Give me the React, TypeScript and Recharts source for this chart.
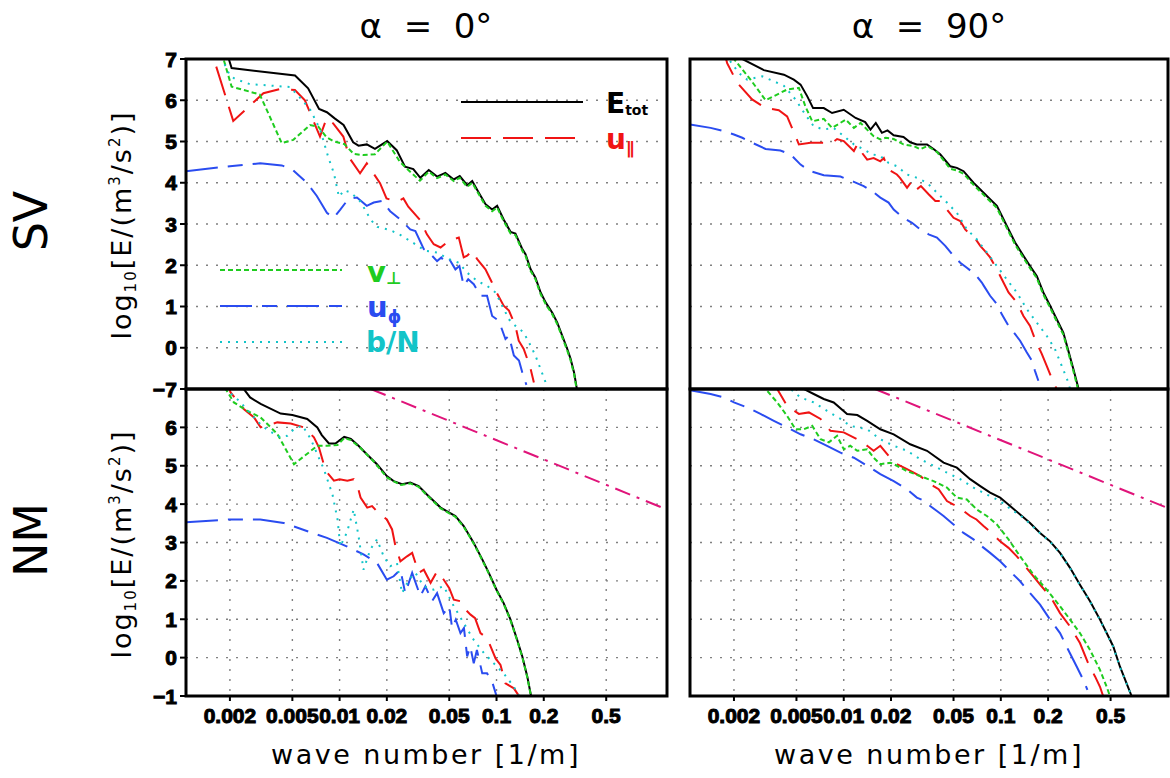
import React from 'react';
import { LineChart, Line, XAxis, YAxis, CartesianGrid } from 'recharts';

type Pt = [number, number];

// wave number ticks [1/m] and log10 energy ticks
const X_TICKS = [0.002, 0.005, 0.01, 0.02, 0.05, 0.1, 0.2, 0.5];
const Y_TICKS = [-1, 0, 1, 2, 3, 4, 5, 6, 7];
const K_MIN = 0.00105;

// ---- SV, alpha = 0 ----
const SV0_ETOT: Pt[] = [
  [0.0018, 7.6], [0.00195, 7.05], [0.00205, 6.78], [0.0052, 6.6], [0.0063, 6.29], [0.0074, 5.79],
  [0.0083, 5.71], [0.0093, 5.56], [0.0106, 5.4], [0.0122, 4.98], [0.0132, 4.9], [0.0149, 4.93],
  [0.0168, 4.82], [0.0201, 5.01], [0.0231, 4.79], [0.0261, 4.39], [0.0295, 4.33], [0.0327, 4.12],
  [0.037, 4.31], [0.0418, 4.15], [0.0472, 4.24], [0.0534, 4.08], [0.0583, 4.16], [0.065, 3.94],
  [0.07, 4.04], [0.0771, 3.76], [0.0851, 3.48], [0.0938, 3.35], [0.1009, 3.44], [0.111, 3.11],
  [0.1228, 2.81], [0.132, 2.77], [0.146, 2.39], [0.153, 2.27], [0.165, 1.9], [0.177, 1.7],
  [0.191, 1.34], [0.2055, 1.1], [0.2266, 0.85], [0.2438, 0.61], [0.2625, 0.29], [0.2825, -0.03],
  [0.2965, -0.27], [0.312, -0.6], [0.3245, -0.98], [0.335, -1.3],
];
const SV0_UPAR: Pt[] = [
  [0.0014, 7.8], [0.00158, 7.0], [0.0021, 5.5], [0.00327, 6.17], [0.00417, 6.27], [0.00519, 6.25],
  [0.00601, 6.0], [0.0075, 5.12], [0.00826, 5.56], [0.0091, 5.44], [0.01056, 5.12], [0.0116, 4.59],
  [0.0135, 4.23], [0.0149, 4.47], [0.0181, 3.99], [0.0199, 3.62], [0.0231, 3.54], [0.0255, 3.62],
  [0.0274, 3.42], [0.0325, 3.1], [0.036, 2.75], [0.0398, 2.51], [0.044, 2.43], [0.0497, 2.59],
  [0.0534, 2.63], [0.0575, 2.67], [0.0618, 2.19], [0.065, 2.23], [0.07, 2.35], [0.0753, 2.15],
  [0.085, 1.9], [0.093, 1.6], [0.1, 1.34], [0.111, 1.02], [0.12, 0.9], [0.132, 0.53], [0.1385, 0.17],
  [0.149, -0.03], [0.157, -0.27], [0.165, -0.52], [0.173, -0.84],
];
const SV0_UPHI: Pt[] = [
  [0.00105, 4.28], [0.002, 4.4], [0.00312, 4.47], [0.00428, 4.42], [0.005, 4.32], [0.00618, 4.0],
  [0.00716, 3.68], [0.0083, 3.27], [0.00916, 3.15], [0.0101, 3.35], [0.0114, 3.61], [0.0129, 3.64],
  [0.0149, 3.44], [0.0165, 3.52], [0.0186, 3.56], [0.021, 3.31], [0.0244, 3.11], [0.0282, 2.87],
  [0.0304, 2.83], [0.0344, 2.39], [0.038, 2.27], [0.0418, 2.1], [0.0445, 2.19], [0.0472, 2.06],
  [0.05, 2.15], [0.0547, 1.9], [0.058, 1.98], [0.0618, 1.5], [0.066, 1.66], [0.0716, 1.54],
  [0.079, 1.26], [0.087, 1.26], [0.0938, 0.77], [0.1035, 0.65], [0.114, 0.21], [0.12, 0.29],
  [0.129, -0.19], [0.139, -0.31], [0.146, -0.6], [0.155, -0.9],
];
const SV0_VPERP: Pt[] = [
  [0.0016, 7.5], [0.00182, 7.0], [0.00205, 6.33], [0.0031, 6.14], [0.00428, 4.96], [0.00507, 5.04],
  [0.00648, 5.4], [0.00732, 5.36], [0.00826, 5.1], [0.0092, 5.0], [0.0107, 4.94], [0.0123, 4.7],
  [0.01415, 4.67], [0.0168, 4.69], [0.0201, 5.0], [0.0242, 4.51], [0.0274, 4.31], [0.0325, 4.05],
  [0.037, 4.27], [0.0418, 4.11], [0.0472, 4.2], [0.0534, 4.04], [0.0583, 4.12], [0.065, 3.9],
  [0.07, 4.0], [0.0771, 3.72], [0.0851, 3.44], [0.0938, 3.31], [0.1009, 3.4], [0.111, 3.07],
  [0.1228, 2.77], [0.132, 2.73], [0.146, 2.35], [0.153, 2.23], [0.165, 1.86], [0.177, 1.66],
  [0.191, 1.3], [0.2055, 1.06], [0.2266, 0.81], [0.2438, 0.57], [0.2625, 0.25], [0.2825, -0.07],
  [0.2965, -0.31], [0.312, -0.64], [0.3245, -1.02], [0.335, -1.3],
];
const SV0_BN: Pt[] = [
  [0.0016, 7.4], [0.00178, 7.0], [0.002, 6.6], [0.00215, 6.52], [0.00268, 6.39], [0.0035, 6.36],
  [0.00484, 6.32], [0.0056, 6.06], [0.0065, 5.77], [0.0075, 5.3], [0.0085, 4.6], [0.0092, 4.23],
  [0.0099, 3.66], [0.0107, 3.82], [0.0118, 3.76], [0.0136, 3.54], [0.0158, 3.1], [0.0174, 2.93],
  [0.0211, 2.85], [0.0245, 2.73], [0.0298, 2.53], [0.0352, 2.35], [0.0418, 2.31], [0.0497, 2.15],
  [0.0575, 2.06], [0.065, 1.82], [0.0753, 1.62], [0.087, 1.5], [0.0986, 1.34], [0.106, 1.1],
  [0.12, 0.69], [0.132, 0.53], [0.149, 0.37], [0.165, 0.05], [0.177, -0.19], [0.191, -0.52],
  [0.2055, -0.84],
];

// ---- NM, alpha = 0 ----
const NM0_ETOT: Pt[] = [
  [0.0022, 7.4], [0.00245, 7.0], [0.00269, 6.78], [0.00314, 6.61], [0.00421, 6.36], [0.005, 6.32],
  [0.00622, 6.22], [0.00721, 6.0], [0.0077, 5.8], [0.00855, 5.58], [0.0094, 5.58], [0.0107, 5.75],
  [0.0118, 5.7], [0.0132, 5.52], [0.0149, 5.3], [0.0173, 5.04], [0.02, 4.73], [0.0221, 4.6],
  [0.025, 4.52], [0.0282, 4.56], [0.0319, 4.47], [0.036, 4.25], [0.0398, 4.08], [0.044, 3.91],
  [0.05, 3.78], [0.0547, 3.69], [0.0618, 3.43], [0.0716, 2.99], [0.0811, 2.56], [0.0893, 2.21],
  [0.1, 1.77], [0.111, 1.42], [0.1228, 0.99], [0.1355, 0.46], [0.146, 0.03], [0.157, -0.49],
  [0.166, -1.0], [0.172, -1.3],
];
const NM0_UPAR: Pt[] = [
  [0.0018, 7.5], [0.00202, 6.91], [0.00245, 6.48], [0.00285, 6.26], [0.00314, 6.0], [0.00401, 6.13],
  [0.00488, 6.1], [0.00593, 6.0], [0.00686, 5.74], [0.00738, 5.48], [0.00815, 4.87], [0.0092, 4.61],
  [0.01, 4.65], [0.0112, 4.61], [0.0123, 4.65], [0.013, 4.48], [0.0136, 4.17], [0.015, 3.91],
  [0.0161, 3.95], [0.0174, 3.8], [0.02, 3.6], [0.0216, 3.34], [0.0227, 2.9], [0.0244, 2.51],
  [0.0269, 2.64], [0.029, 2.73], [0.0319, 2.21], [0.0344, 2.29], [0.038, 1.95], [0.0418, 2.25],
  [0.0461, 2.03], [0.05, 1.81], [0.0534, 1.51], [0.0589, 1.47], [0.0634, 1.25], [0.0683, 1.12],
  [0.073, 1.03], [0.079, 0.64], [0.087, 0.51], [0.0986, -0.02], [0.106, -0.19], [0.114, -0.67],
  [0.129, -0.8], [0.139, -1.0], [0.145, -1.3],
];
const NM0_UPHI: Pt[] = [
  [0.00105, 3.53], [0.002, 3.6], [0.00312, 3.6], [0.0044, 3.51], [0.00618, 3.3], [0.0083, 3.12],
  [0.0111, 2.9], [0.0142, 2.69], [0.0173, 2.47], [0.02, 2.03], [0.0221, 2.12], [0.0244, 2.29],
  [0.0262, 1.68], [0.029, 2.21], [0.0327, 1.6], [0.0352, 1.86], [0.0388, 1.47], [0.0418, 1.68],
  [0.0461, 1.16], [0.05, 1.34], [0.0521, 0.77], [0.055, 0.99], [0.0589, 0.64], [0.062, 0.77],
  [0.065, 0.03], [0.068, 0.29], [0.0716, -0.15], [0.075, 0.2], [0.0811, -0.41], [0.087, -0.41],
  [0.0938, -0.63], [0.1, -1.0], [0.105, -1.3],
];
const NM0_VPERP: Pt[] = [
  [0.0016, 7.6], [0.00188, 7.0], [0.00212, 6.65], [0.00258, 6.43], [0.00314, 6.26], [0.00401, 5.83],
  [0.00512, 5.04], [0.00721, 5.52], [0.00835, 5.52], [0.0097, 5.54], [0.0107, 5.72], [0.0118, 5.67],
  [0.0136, 5.46], [0.0165, 5.11], [0.0201, 4.69], [0.0245, 4.5], [0.0282, 4.54], [0.0319, 4.45],
  [0.036, 4.23], [0.0398, 4.06], [0.044, 3.89], [0.05, 3.76], [0.0547, 3.67], [0.0618, 3.41],
  [0.0716, 2.97], [0.0811, 2.54], [0.0893, 2.19], [0.1, 1.75], [0.111, 1.4], [0.1228, 0.97],
  [0.1355, 0.44], [0.146, 0.01], [0.157, -0.51], [0.166, -1.02], [0.172, -1.3],
];
const NM0_BN: Pt[] = [
  [0.0017, 7.4], [0.00187, 7.0], [0.00229, 6.69], [0.00285, 6.26], [0.0032, 6.04], [0.00355, 5.91],
  [0.00421, 5.74], [0.00464, 5.78], [0.0051, 5.95], [0.0058, 6.05], [0.00654, 5.7], [0.00721, 5.3],
  [0.00794, 4.91], [0.00855, 4.52], [0.009, 4.26], [0.0097, 3.6], [0.0101, 2.9], [0.0111, 3.25],
  [0.0123, 3.86], [0.0132, 3.17], [0.0142, 2.29], [0.0157, 2.82], [0.0173, 3.08], [0.0191, 2.64],
  [0.021, 2.38], [0.0232, 2.47], [0.025, 1.68], [0.0276, 2.03], [0.0304, 2.21], [0.0344, 1.86],
  [0.0398, 1.77], [0.0461, 1.86], [0.0534, 1.34], [0.0618, 0.9], [0.0716, 0.46], [0.083, 0.12],
  [0.0961, -0.15], [0.111, -0.41], [0.129, -0.76], [0.139, -1.0], [0.15, -1.3],
];

// ---- SV, alpha = 90 ----
const SV90_ETOT: Pt[] = [
  [0.002, 7.5], [0.00226, 7.0], [0.0031, 6.73], [0.00416, 6.62], [0.00481, 6.5], [0.00531, 6.38],
  [0.00585, 6.1], [0.00638, 5.81], [0.00746, 5.81], [0.00843, 5.69], [0.01, 5.77], [0.0119, 5.57],
  [0.0137, 5.47], [0.0148, 5.29], [0.016, 5.45], [0.0175, 5.21], [0.019, 5.27], [0.0208, 5.15],
  [0.024, 5.11], [0.0265, 4.98], [0.0292, 4.93], [0.0339, 4.93], [0.0373, 4.82], [0.0411, 4.69],
  [0.0476, 4.4], [0.0525, 4.36], [0.0579, 4.28], [0.067, 4.0], [0.0757, 3.8], [0.0855, 3.6],
  [0.0944, 3.44], [0.1067, 3.03], [0.1233, 2.55], [0.1393, 2.23], [0.1535, 1.98], [0.1694, 1.74],
  [0.1866, 1.34], [0.206, 1.02], [0.227, 0.69], [0.25, 0.37], [0.269, -0.07], [0.29, -0.52],
  [0.312, -0.98], [0.325, -1.3],
];
const SV90_UPAR: Pt[] = [
  [0.0017, 7.3], [0.00181, 6.9], [0.0021, 6.42], [0.00261, 6.02], [0.00318, 5.81], [0.00386, 5.76],
  [0.00436, 5.61], [0.00493, 5.13], [0.00518, 4.93], [0.00614, 4.97], [0.00728, 4.97], [0.00843, 4.97],
  [0.00907, 5.06], [0.01, 5.01], [0.0116, 4.77], [0.0122, 4.93], [0.0128, 4.77], [0.0141, 4.56],
  [0.0155, 4.6], [0.0171, 4.52], [0.018, 4.6], [0.0193, 4.32], [0.0218, 4.2], [0.0228, 4.12],
  [0.0253, 3.88], [0.0272, 4.04], [0.0292, 3.84], [0.031, 3.92], [0.0347, 3.72], [0.0383, 3.56],
  [0.041, 3.56], [0.0454, 3.35], [0.05, 3.15], [0.0552, 3.07], [0.0593, 2.87], [0.0638, 2.75],
  [0.068, 2.67], [0.074, 2.47], [0.079, 2.35], [0.0855, 2.19], [0.0944, 1.9], [0.1015, 1.66],
  [0.112, 1.34], [0.1265, 1.1], [0.1393, 0.77], [0.1535, 0.53], [0.165, 0.21], [0.1823, -0.15],
  [0.196, -0.44], [0.216, -0.84], [0.227, -1.0], [0.235, -1.3],
];
const SV90_UPHI: Pt[] = [
  [0.00105, 5.41], [0.00142, 5.33], [0.00173, 5.25], [0.002, 5.17], [0.00226, 5.09], [0.00261, 4.97],
  [0.00318, 4.82], [0.00395, 4.78], [0.00458, 4.69], [0.00531, 4.44], [0.00614, 4.28], [0.00746, 4.18],
  [0.00953, 4.15], [0.0116, 4.02], [0.0134, 3.92], [0.0151, 3.8], [0.0171, 3.64], [0.0193, 3.52],
  [0.0208, 3.35], [0.024, 3.15], [0.0272, 3.03], [0.0307, 2.87], [0.0347, 2.75], [0.0392, 2.67],
  [0.0443, 2.47], [0.0489, 2.27], [0.0552, 2.06], [0.0608, 1.94], [0.0687, 1.78], [0.0757, 1.58],
  [0.078, 1.5], [0.0855, 1.26], [0.0944, 1.06], [0.1015, 0.81], [0.112, 0.53], [0.1233, 0.33],
  [0.1327, 0.17], [0.1462, -0.11], [0.1574, -0.31], [0.165, -0.56], [0.1734, -0.8],
];
const SV90_VPERP: Pt[] = [
  [0.0018, 7.4], [0.002, 7.0], [0.00255, 6.5], [0.00318, 6.0], [0.00436, 6.26], [0.00518, 6.3],
  [0.0057, 5.85], [0.0063, 5.49], [0.00746, 5.55], [0.00843, 5.33], [0.0103, 5.53], [0.0116, 5.33],
  [0.0128, 5.45], [0.0144, 5.25], [0.0155, 5.13], [0.0171, 5.05], [0.0185, 5.09], [0.0208, 5.06],
  [0.024, 4.93], [0.0279, 4.89], [0.0307, 4.81], [0.034, 4.89], [0.0392, 4.75], [0.0476, 4.34],
  [0.0525, 4.3], [0.0579, 4.22], [0.067, 3.95], [0.0757, 3.75], [0.0855, 3.55], [0.0944, 3.39],
  [0.1067, 2.98], [0.1233, 2.5], [0.1393, 2.18], [0.1535, 1.93], [0.1694, 1.69], [0.1866, 1.29],
  [0.206, 0.97], [0.227, 0.64], [0.25, 0.32], [0.269, -0.12], [0.29, -0.57], [0.31, -1.0], [0.32, -1.3],
];
const SV90_BN: Pt[] = [
  [0.0017, 7.3], [0.0019, 6.94], [0.00215, 6.66], [0.00243, 6.5], [0.00303, 6.58], [0.00359, 6.46],
  [0.00416, 6.35], [0.00493, 6.02], [0.0057, 5.65], [0.00644, 5.37], [0.00746, 5.29], [0.00863, 5.33],
  [0.01, 5.13], [0.0116, 4.93], [0.0134, 4.81], [0.0151, 4.69], [0.0171, 4.65], [0.0193, 4.48],
  [0.0218, 4.4], [0.0253, 4.2], [0.0292, 4.12], [0.0339, 4.0], [0.0392, 3.76], [0.0454, 3.52],
  [0.0525, 3.27], [0.0608, 2.87], [0.0703, 2.63], [0.0815, 2.31], [0.0944, 1.98], [0.109, 1.66],
  [0.1265, 1.34], [0.1462, 0.94], [0.1694, 0.61], [0.196, 0.29], [0.221, -0.03], [0.2443, -0.44],
  [0.269, -0.84], [0.276, -1.0], [0.285, -1.3],
];

// ---- NM, alpha = 90 ----
const NM90_ETOT: Pt[] = [
  [0.0048, 7.3], [0.00557, 7.0], [0.00644, 6.87], [0.00746, 6.74], [0.00863, 6.65], [0.0105, 6.35],
  [0.0122, 6.32], [0.0141, 6.17], [0.0171, 5.95], [0.0208, 5.82], [0.0265, 5.56], [0.0339, 5.39],
  [0.0432, 5.08], [0.0525, 4.95], [0.0638, 4.65], [0.074, 4.47], [0.0855, 4.3], [0.099, 4.17],
  [0.1146, 3.95], [0.1327, 3.73], [0.1535, 3.51], [0.1778, 3.25], [0.206, 3.03], [0.2383, 2.73],
  [0.276, 2.34], [0.319, 1.9], [0.37, 1.47], [0.428, 0.99], [0.472, 0.64], [0.52, 0.29],
  [0.573, -0.23], [0.632, -0.67], [0.68, -1.0], [0.72, -1.3],
];
const NM90_UPAR: Pt[] = [
  [0.0034, 7.3], [0.00377, 7.0], [0.00436, 6.56], [0.00518, 6.35], [0.006, 6.39], [0.00712, 6.22],
  [0.00823, 5.91], [0.01, 5.87], [0.0122, 5.69], [0.0141, 5.52], [0.0155, 5.39], [0.0171, 5.52],
  [0.0193, 5.26], [0.0218, 5.04], [0.0253, 4.91], [0.0279, 4.82], [0.0307, 4.73], [0.0339, 4.6],
  [0.0373, 4.47], [0.0402, 4.39], [0.0454, 4.08], [0.05, 3.99], [0.0565, 3.86], [0.0638, 3.69],
  [0.07, 3.6], [0.0776, 3.43], [0.0874, 3.25], [0.099, 3.03], [0.112, 2.86], [0.1265, 2.64],
  [0.1429, 2.38], [0.1614, 2.12], [0.1778, 1.9], [0.206, 1.6], [0.2383, 1.16], [0.276, 0.81],
  [0.319, 0.38], [0.36, -0.15], [0.398, -0.49], [0.428, -0.76], [0.448, -1.0], [0.46, -1.2],
];
const NM90_UPHI: Pt[] = [
  [0.00105, 6.97], [0.00142, 6.87], [0.00173, 6.78], [0.002, 6.65], [0.00243, 6.52], [0.00295, 6.35],
  [0.00359, 6.17], [0.00436, 6.0], [0.00531, 5.82], [0.00644, 5.69], [0.00783, 5.52], [0.00953, 5.34],
  [0.0116, 5.21], [0.0141, 5.0], [0.0171, 4.78], [0.0208, 4.6], [0.0253, 4.39], [0.0292, 4.17],
  [0.033, 4.08], [0.0355, 3.95], [0.0392, 3.82], [0.0432, 3.69], [0.05, 3.47], [0.0579, 3.25],
  [0.067, 3.08], [0.0757, 2.9], [0.0855, 2.73], [0.099, 2.51], [0.1146, 2.25], [0.1327, 1.99],
  [0.1535, 1.68], [0.1778, 1.38], [0.206, 0.99], [0.2383, 0.64], [0.269, 0.2], [0.304, -0.23],
  [0.335, -0.58], [0.356, -0.84],
];
const NM90_VPERP: Pt[] = [
  [0.0029, 7.3], [0.00318, 7.0], [0.00377, 6.65], [0.00436, 6.3], [0.00493, 5.95], [0.00557, 5.95],
  [0.0063, 6.04], [0.00712, 5.69], [0.00804, 5.61], [0.00907, 5.78], [0.01, 5.43], [0.011, 5.52],
  [0.0122, 5.39], [0.0141, 5.43], [0.0155, 5.21], [0.0171, 5.04], [0.0198, 5.08], [0.0218, 5.0],
  [0.0253, 4.86], [0.0307, 4.73], [0.0373, 4.6], [0.0454, 4.43], [0.0525, 4.17], [0.0608, 4.12],
  [0.0703, 3.86], [0.0815, 3.69], [0.0944, 3.47], [0.112, 3.08], [0.1327, 2.64], [0.1614, 2.16],
  [0.196, 1.77], [0.2383, 1.34], [0.276, 0.99], [0.319, 0.64], [0.37, 0.2], [0.428, -0.32],
  [0.472, -0.76], [0.495, -1.0], [0.51, -1.2],
];
const NM90_BN: Pt[] = [
  [0.004, 7.3], [0.00458, 7.0], [0.00531, 6.78], [0.00644, 6.65], [0.00783, 6.43], [0.00953, 6.22],
  [0.011, 6.04], [0.0141, 5.95], [0.0171, 5.69], [0.0208, 5.52], [0.0253, 5.39], [0.0307, 5.17],
  [0.0373, 5.0], [0.0454, 4.82], [0.0552, 4.65], [0.067, 4.43], [0.0815, 4.25], [0.099, 4.08],
  [0.12, 3.82], [0.1327, 3.71], [0.1535, 3.49], [0.1778, 3.24], [0.206, 3.02], [0.2383, 2.72],
  [0.276, 2.33], [0.319, 1.89], [0.37, 1.46], [0.428, 0.98], [0.472, 0.63], [0.52, 0.28],
  [0.573, -0.24], [0.632, -0.68], [0.68, -1.0],
];

// k^(-5/3) reference slope drawn in the NM panels
const KOLMOGOROV: Pt[] = [[0.0158, 7.0], [1.25, 3.84]];

const SERIES = [
  { key: 'etot', color: '#000000', dash: undefined as string | undefined },
  { key: 'upar', color: '#f01414', dash: '30 12' },
  { key: 'uphi', color: '#2a4cf0', dash: '32 10 15 10' },
  { key: 'vperp', color: '#1fcc1f', dash: '5 3' },
  { key: 'bn', color: '#12c4c8', dash: '2 6' },
] as const;
const KOLMO_COLOR = '#e0147a';
const KOLMO_DASH = '16 7 3 7';

type Curves = Record<'etot' | 'upar' | 'uphi' | 'vperp' | 'bn', Pt[]>;

const rows = (pts: Pt[]) => pts.map(([k, v]) => ({ k, v }));

const TICK_FONT = {
  fontFamily: 'Liberation Sans, Arial, sans-serif',
  fontWeight: 700,
  fontSize: 21,
  fill: '#000',
  stroke: '#000',
  strokeWidth: 1,
};

function YTick(props: any) {
  const { x, y, payload, signOnly } = props;
  const v: number = payload.value;
  const txt = v < 0 ? `\u2212${Math.abs(v)}` : String(v);
  if (signOnly && v === -1) {
    // the "1" of -1 is overdrawn by the 7 of the panel below
    return (
      <text x={x - 12} y={y} dy="0.36em" textAnchor="end" {...TICK_FONT}>
        {'\u2212'}
      </text>
    );
  }
  return (
    <text x={x} y={y} dy="0.36em" textAnchor="end" {...TICK_FONT}>
      {txt}
    </text>
  );
}

type PanelProps = {
  left: number;
  top: number;
  width: number;
  height: number;
  margin: { top: number; right: number; bottom: number; left: number };
  xMax: number;
  bottomRow: boolean;
  leftCol: boolean;
  curves: Curves;
};

function Panel(p: PanelProps) {
  return (
    <div style={{ position: 'absolute', left: p.left, top: p.top }}>
      <LineChart width={p.width} height={p.height} margin={p.margin}>
        <CartesianGrid stroke="#808080" strokeWidth={1.4} strokeDasharray="2 8" />
        <XAxis
          dataKey="k"
          type="number"
          scale="log"
          domain={[K_MIN, p.xMax]}
          allowDataOverflow
          ticks={X_TICKS}
          interval={0}
          height={p.bottomRow ? 40 : 20}
          axisLine={false}
          tick={p.bottomRow ? TICK_FONT : false}
          tickLine={p.bottomRow ? { stroke: '#000', strokeWidth: 2 } : false}
          tickSize={5}
          tickMargin={7}
        />
        <YAxis
          type="number"
          domain={[-1, 7]}
          allowDataOverflow
          ticks={Y_TICKS}
          interval={0}
          hide={!p.leftCol}
          width={86}
          axisLine={false}
          tickLine={{ stroke: '#000', strokeWidth: 2 }}
          tickSize={6}
          tickMargin={3}
          tick={(t: any) => <YTick {...t} signOnly={!p.bottomRow} />}
        />
        {SERIES.map((s) => (
          <Line
            key={s.key}
            data={rows(p.curves[s.key])}
            dataKey="v"
            type="linear"
            stroke={s.color}
            strokeWidth={2}
            strokeDasharray={s.dash}
            dot={false}
            activeDot={false}
            isAnimationActive={false}
          />
        ))}
        {p.bottomRow && (
          <Line
            data={rows(KOLMOGOROV)}
            dataKey="v"
            type="linear"
            stroke={KOLMO_COLOR}
            strokeWidth={2}
            strokeDasharray={KOLMO_DASH}
            dot={false}
            activeDot={false}
            isAnimationActive={false}
          />
        )}
      </LineChart>
    </div>
  );
}

const LABEL_FONT = 'DejaVu Sans, sans-serif';
const LEGEND_FONT = 'DejaVu Sans, sans-serif';

function YLabel({ cy }: { cy: number }) {
  return (
    <text
      transform={`translate(131,${cy}) rotate(-90)`}
      textAnchor="middle"
      fontFamily={LABEL_FONT}
      fontSize={27}
      letterSpacing={2}
      fill="#000"
    >
      log<tspan fontSize={15} dy={5}>10</tspan>
      <tspan dy={-5}>[E/(m</tspan>
      <tspan fontSize={15} dy={-11}>3</tspan>
      <tspan dy={11}>/s</tspan>
      <tspan fontSize={15} dy={-11}>2</tspan>
      <tspan dy={11}>)]</tspan>
    </text>
  );
}

export default function App() {
  const leftW = 580;
  const rightW = 490;
  const topH = 19 + 330 + 20;
  const botH = 10 + 307 + 40;
  return (
    <div style={{ position: 'absolute', left: 0, top: 0, width: 1170, height: 778, background: '#fff', overflow: 'hidden' }}>
      <Panel
        left={100} top={40} width={leftW} height={topH}
        margin={{ top: 19, right: 13, bottom: 0, left: 0 }}
        xMax={1.22} bottomRow={false} leftCol
        curves={{ etot: SV0_ETOT, upar: SV0_UPAR, uphi: SV0_UPHI, vperp: SV0_VPERP, bn: SV0_BN }}
      />
      <Panel
        left={680} top={40} width={rightW} height={topH}
        margin={{ top: 19, right: 2, bottom: 0, left: 10 }}
        xMax={1.16} bottomRow={false} leftCol={false}
        curves={{ etot: SV90_ETOT, upar: SV90_UPAR, uphi: SV90_UPHI, vperp: SV90_VPERP, bn: SV90_BN }}
      />
      <Panel
        left={100} top={379} width={leftW} height={botH}
        margin={{ top: 10, right: 13, bottom: 0, left: 0 }}
        xMax={1.22} bottomRow leftCol
        curves={{ etot: NM0_ETOT, upar: NM0_UPAR, uphi: NM0_UPHI, vperp: NM0_VPERP, bn: NM0_BN }}
      />
      <Panel
        left={680} top={379} width={rightW} height={botH}
        margin={{ top: 10, right: 2, bottom: 0, left: 10 }}
        xMax={1.16} bottomRow leftCol={false}
        curves={{ etot: NM90_ETOT, upar: NM90_UPAR, uphi: NM90_UPHI, vperp: NM90_VPERP, bn: NM90_BN }}
      />

      <svg width={1170} height={778} style={{ position: 'absolute', left: 0, top: 0, pointerEvents: 'none' }}>
        {/* panel frames */}
        <g fill="none" stroke="#000" strokeWidth={3}>
          <rect x={186} y={59} width={481} height={330} />
          <rect x={186} y={389} width={481} height={307} />
          <rect x={690} y={59} width={478} height={330} />
          <rect x={690} y={389} width={478} height={307} />
        </g>

        {/* column titles */}
        <text x={426} y={38} textAnchor="middle" fontFamily={LABEL_FONT} fontSize={34} style={{ whiteSpace: 'pre' }}>
          {'\u03b1  =  0\u00b0'}
        </text>
        <text x={929} y={38} textAnchor="middle" fontFamily={LABEL_FONT} fontSize={34} style={{ whiteSpace: 'pre' }}>
          {'\u03b1  =  90\u00b0'}
        </text>

        {/* row titles */}
        <text transform="translate(47,221) rotate(-90)" textAnchor="middle" fontFamily={LABEL_FONT} fontSize={46}>SV</text>
        <text transform="translate(47,540) rotate(-90)" textAnchor="middle" fontFamily={LABEL_FONT} fontSize={46}>NM</text>

        <YLabel cy={225} />
        <YLabel cy={544} />

        {/* x axis titles */}
        <text x={426} y={764} textAnchor="middle" fontFamily={LABEL_FONT} fontSize={27} letterSpacing={2.5}>
          wave number [1/m]
        </text>
        <text x={929} y={764} textAnchor="middle" fontFamily={LABEL_FONT} fontSize={27} letterSpacing={2.5}>
          wave number [1/m]
        </text>

        {/* legend */}
        <line x1={461} x2={583} y1={102} y2={102} stroke="#000" strokeWidth={2} />
        <text x={606} y={113} fontFamily={LEGEND_FONT} fontWeight={700} fontSize={28} fill="#000">
          E<tspan fontSize={14} dy={2}>tot</tspan>
        </text>
        <line x1={461} x2={577} y1={138} y2={138} stroke="#f01414" strokeWidth={2} strokeDasharray="30 12" />
        <text x={606} y={149} fontFamily={LEGEND_FONT} fontWeight={700} fontSize={28} fill="#f01414">
          u<tspan fontSize={17} dy={5}>{'\u2225'}</tspan>
        </text>
        <line x1={220} x2={342} y1={270} y2={270} stroke="#1fcc1f" strokeWidth={2} strokeDasharray="5 3" />
        <text x={367} y={282} fontFamily={LEGEND_FONT} fontWeight={700} fontSize={29} fill="#1fcc1f">
          v<tspan fontSize={17} dy={2}>{'\u22a5'}</tspan>
        </text>
        <line x1={220} x2={342} y1={306} y2={306} stroke="#2a4cf0" strokeWidth={2} strokeDasharray="32 10 15 10" />
        <text x={367} y={317} fontFamily={LEGEND_FONT} fontWeight={700} fontSize={29} fill="#2a4cf0">
          u<tspan fontSize={17} dy={6}>{'\u03d5'}</tspan>
        </text>
        <line x1={220} x2={342} y1={342} y2={342} stroke="#12c4c8" strokeWidth={2} strokeDasharray="2 6" />
        <text x={366} y={352} fontFamily={LEGEND_FONT} fontWeight={700} fontSize={28} fill="#12c4c8">
          b/N
        </text>
      </svg>
    </div>
  );
}
